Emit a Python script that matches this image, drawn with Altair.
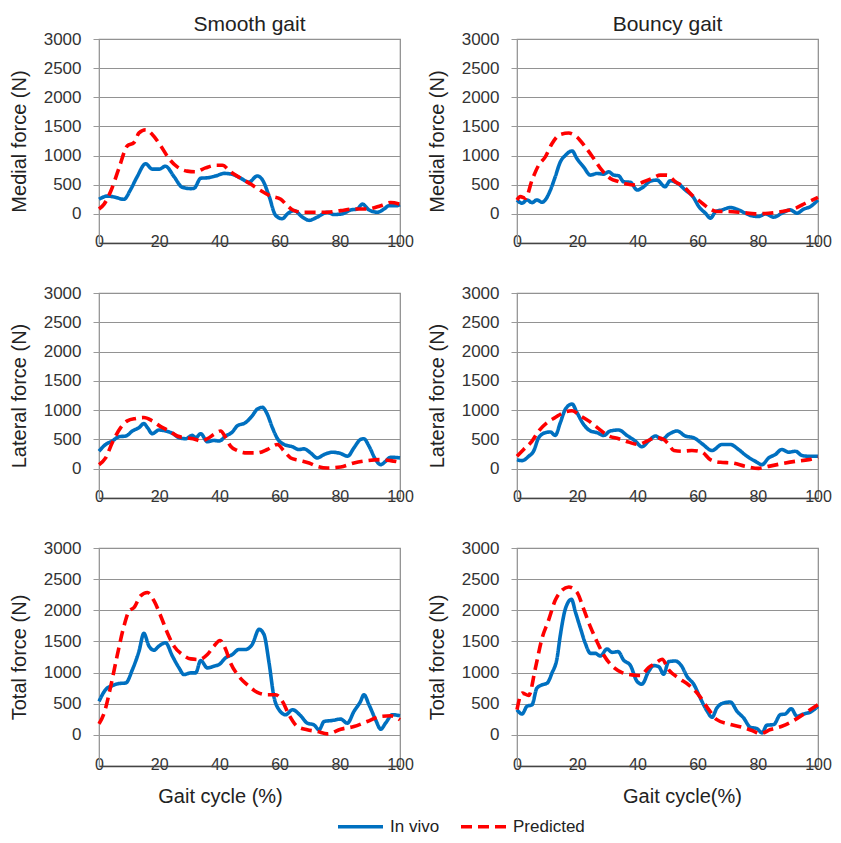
import altair as alt
import pandas as pd

# ---------------- data ----------------
# Smooth gait - medial
sm_med_vivo_x = [0,2.8,5,8.3,10.5,12.7,15.5,17.7,20,22.1,24.9,27.7,30.5,31.6,33.8,36.5,38.8,41.5,44.3,47.1,49.8,52.6,54.3,56.5,58.7,60.9,62.6,64.8,67.6,69.8,72.5,75.9,78.1,80.8,83.6,85.8,87.5,89.7,92.5,94.7,96.3,98.6,100]
sm_med_vivo_y = [250,305,290,250,417,640,860,767,767,817,640,455,433,440,611,622,650,694,678,611,544,650,583,305,-28,-83,0,56,-56,-111,-56,28,-11,0,67,83,167,67,28,83,139,139,156]
sm_med_pred_x = [0,1.7,3.9,6.6,9.4,11.6,13.3,15.5,17.7,20.5,23.3,26,29.3,32.1,35.4,38.8,41,43.7,47.1,50.4,53.7,57,60.4,62.6,64.8,68.1,71.4,75.9,80.3,84.7,89.1,93.6,96.9,100]
sm_med_pred_y = [83,167,389,778,1167,1222,1389,1444,1361,1167,944,806,733,722,789,833,833,722,611,511,400,306,250,139,56,28,28,28,56,83,83,139,194,167]

# Bouncy gait - medial
bo_med_vivo_x = [0,1.7,3.3,5,6.6,8.3,9.4,11.1,12.7,14.4,16.1,18.3,19.9,22.1,24.4,26.6,28.8,30.5,32.1,33.8,35.4,37.7,39.9,42.1,44.3,46.5,49.2,50.9,53.7,55.9,58.6,60.4,62.6,64.3,66,68.1,70.9,73.6,75.9,78.1,80.3,82.6,85.3,88,90.8,93,95.2,97.5,100]
bo_med_vivo_y = [239,182,239,193,239,199,239,409,636,892,1005,1079,949,807,665,693,682,721,665,653,551,540,409,466,562,579,466,568,511,409,284,125,11,-74,40,68,108,68,11,-34,-45,0,-57,11,68,11,80,125,239]
bo_med_pred_x = [0,1.1,2.8,5,7.2,9.4,11.6,14.4,17.2,19.9,22.7,25.5,28.2,31,33.8,36.5,39.3,42.1,44.9,47.6,49.8,52.6,55.4,58.1,60.9,63.7,66.4,70.3,74.8,79.2,83.6,88,92.5,95.8,100]
bo_med_pred_y = [239,295,267,579,835,977,1204,1363,1386,1318,1147,949,750,608,551,511,494,551,608,665,665,551,466,324,210,97,40,40,23,0,11,40,97,182,284]

# Smooth gait - lateral
sm_lat_vivo_x = [0,2.2,4.4,6.6,8.9,11.1,13.3,14.9,16.1,17.7,19.9,22.1,24.4,26.6,28.8,31,32.1,33.8,36,38.2,39.9,42.1,44.3,45.9,48.7,50.9,52.6,54.3,55.9,57.6,59.3,61.5,64.3,66.4,68.1,70.3,72.5,74.8,77.5,80.3,82.6,84.7,86.9,88,89.7,91.9,93.6,95.2,96.9,100]
sm_lat_vivo_y = [299,414,472,546,558,644,702,771,702,598,661,644,604,529,512,569,529,598,460,483,472,558,627,730,788,903,1018,1047,932,702,512,414,374,328,339,270,184,242,282,259,213,357,500,512,385,155,69,126,196,184]
sm_lat_pred_x = [0,2.2,4.4,7.2,9.4,12.2,14.9,17.7,20.5,23.3,26,28.8,32.1,33.8,36,38.2,40.4,42.1,43.7,45.9,49.2,52.6,55.9,59.3,61.5,63.7,66.4,69.8,72.5,75.9,80.3,84.7,89.1,93.6,96.9,100]
sm_lat_pred_y = [69,184,443,702,817,857,874,817,719,644,558,529,500,472,512,587,644,529,385,311,270,270,328,414,299,184,144,98,40,12,29,98,138,155,138,109]

# Bouncy gait - lateral
bo_lat_vivo_x = [0,1.7,3.9,5.5,7.2,9.4,11.1,12.7,14.4,16.1,18.3,19.9,22.1,24.4,26.6,28.8,31,33.8,36.5,39.3,41.5,43.7,46,48.2,50.4,53.2,55.9,58.7,61.5,64.8,68.1,70.9,73.6,76.4,79.2,81.4,83.6,85.8,88,90.3,92.5,94.7,96.9,100]
bo_lat_vivo_y = [155,138,213,299,529,615,627,569,788,1018,1104,960,759,644,615,569,644,661,569,472,374,472,558,500,587,644,558,529,426,311,414,414,328,213,126,69,184,242,328,282,299,224,213,213]
bo_lat_pred_x = [0,2.2,5,7.2,10,12.7,15.5,18.3,21.1,23.8,27.1,30.5,33.8,37.1,40.4,43.2,46,48.7,50.4,52.1,54.8,58.1,61.5,64.2,67.6,71.4,75.9,80.3,83.6,88,92.5,96.9,100]
bo_lat_pred_y = [213,328,472,644,788,874,960,989,903,817,684,558,512,454,414,472,529,500,414,311,299,311,282,155,109,98,40,6,40,86,126,155,196]

# Smooth gait - total
sm_tot_vivo_x = [0,2.2,4.4,6.6,8.9,11.1,13.3,14.9,16.6,18.3,19.9,22.1,24.4,26.6,28.2,30.5,32.1,33.8,36,38.2,39.9,42.1,44.3,46.5,48.7,50.9,53.2,54.8,56.5,58.1,59.8,62,64.3,67,69.2,71.4,73.1,74.8,77.5,80.3,82.5,84.7,86.9,88,89.7,91.9,93.6,95.2,97.5,100]
sm_tot_vivo_y = [538,726,790,823,833,1048,1344,1629,1425,1360,1425,1478,1263,1075,968,995,995,1193,1075,1102,1129,1237,1290,1371,1371,1452,1694,1613,1156,618,403,323,403,306,188,161,81,215,231,253,188,376,538,645,484,242,91,188,323,306]
sm_tot_pred_x = [0,1.7,3.9,6,8.3,10,11.6,13.8,16.1,18.3,20.5,22.7,24.9,27.7,30.5,33.2,36,38.2,40.2,42.1,43.7,46,49.2,52.6,55.9,58.7,60.9,63.1,65.9,69.2,72.5,75.9,80.3,84.7,89.1,93.6,96.9,100]
sm_tot_pred_y = [177,349,780,1263,1747,1989,2043,2231,2285,2150,1909,1640,1425,1290,1220,1210,1290,1425,1516,1371,1156,968,806,683,645,645,538,323,134,81,54,16,91,134,215,296,306,242]

# Bouncy gait - total
bo_tot_vivo_x = [0,1.7,3.3,5,6.6,8.3,10,11.6,13.3,14.4,16.1,18.1,19.4,21.1,22.7,24.4,26,27.7,29.9,31.6,33.6,35.4,37.7,39.9,41.5,43.7,45.4,47.1,48.7,50.4,52.6,54.8,56.5,58.7,60.9,63.1,64.8,66.4,68.6,70.9,73.1,75.3,77.5,79.7,81.4,83,85.3,87.5,89.1,91.1,93,95.2,97.5,100]
bo_tot_vivo_y = [404,335,458,484,750,803,830,990,1229,1601,2027,2176,1974,1708,1468,1309,1309,1266,1378,1325,1336,1202,1112,857,814,1016,1112,1096,974,1176,1186,1096,936,814,590,388,282,431,511,527,378,271,122,101,32,154,165,325,335,420,298,335,367,458]
bo_tot_pred_x = [0,1.7,3.9,6.1,8.3,10.5,12.7,14.9,17.2,19.9,22.1,24.4,26.6,28.8,31.6,34.9,38.2,41,43.7,46,48.2,50.4,53.7,57,60.3,63.7,66.4,70.3,74.8,78.1,80.9,84.2,88,91.9,95.8,100]
bo_tot_pred_y = [404,670,633,1069,1548,1841,2160,2320,2373,2293,2027,1734,1495,1282,1107,1000,963,952,1080,1149,1213,1043,910,803,644,404,245,176,122,69,21,85,138,229,351,484]

series_names = ["In vivo", "Predicted"]
series_colors = ["#0070C0", "#FF0000"]
y_ticks = [0, 500, 1000, 1500, 2000, 2500, 3000]
x_ticks = [0, 20, 40, 60, 80, 100]

FONT = "Liberation Sans"


def panel(xv, yv, xp, yp, ytitle, height, title=None, xtitle=None, xtitle_x=None):
    assert len(xv) == len(yv) and len(xp) == len(yp)
    df = pd.DataFrame({
        "x": list(xv) + list(xp),
        "y": list(yv) + list(yp),
        "series": [series_names[0]] * len(xv) + [series_names[1]] * len(xp),
    })
    xaxis_kw = dict(values=x_ticks, format="d", grid=False, ticks=False, tickSize=0,
                    labelPadding=-2, labelBaseline="middle", labelFlush=False,
                    labelOverlap=False, labelFontSize=16, domainColor="#444", domainWidth=1.5,
                    titlePadding=14)
    if xtitle:
        xaxis = alt.Axis(title=xtitle, titleX=xtitle_x, titleAlign="center", **xaxis_kw)
    else:
        xaxis = alt.Axis(title=None, **xaxis_kw)
    c = alt.Chart(df).mark_line(interpolate="monotone", strokeWidth=3.6).encode(
        x=alt.X("x:Q", scale=alt.Scale(domain=[0, 100], nice=False, zero=False), axis=xaxis),
        y=alt.Y("y:Q", scale=alt.Scale(domain=[-500, 3000], nice=False, zero=False),
                axis=alt.Axis(title=ytitle, values=y_ticks, format="d", grid=True, tickSize=6,
                              tickColor="#999", labelPadding=12, titlePadding=14,
                              domainColor="#999")),
        color=alt.Color("series:N", scale=alt.Scale(domain=series_names, range=series_colors),
                        legend=alt.Legend(title=None)),
        strokeDash=alt.StrokeDash("series:N", scale=alt.Scale(domain=series_names, range=[[1, 0], [11, 6]]),
                                  legend=alt.Legend(title=None)),
    )
    props = dict(width=301, height=height)
    if title:
        props["title"] = alt.TitleParams(text=title, anchor="middle", offset=-5)
    return c.properties(**props)


panels = [
    panel(sm_med_vivo_x, sm_med_vivo_y, sm_med_pred_x, sm_med_pred_y, "Medial force (N)", 204, title="Smooth gait"),
    panel(bo_med_vivo_x, bo_med_vivo_y, bo_med_pred_x, bo_med_pred_y, "Medial force (N)", 204, title="Bouncy gait"),
    panel(sm_lat_vivo_x, sm_lat_vivo_y, sm_lat_pred_x, sm_lat_pred_y, "Lateral force (N)", 205),
    panel(bo_lat_vivo_x, bo_lat_vivo_y, bo_lat_pred_x, bo_lat_pred_y, "Lateral force (N)", 205),
    panel(sm_tot_vivo_x, sm_tot_vivo_y, sm_tot_pred_x, sm_tot_pred_y, "Total force (N)", 218,
          xtitle="Gait cycle (%)", xtitle_x=121),
    panel(bo_tot_vivo_x, bo_tot_vivo_y, bo_tot_pred_x, bo_tot_pred_y, "Total force (N)", 218,
          xtitle="Gait cycle(%)", xtitle_x=165),
]

chart = alt.concat(*panels, columns=2, spacing={"row": 50, "column": 117},
                   bounds="flush", align="each").properties(
    padding={"left": 0, "top": 5, "right": 0, "bottom": 0}
).configure_view(
    stroke="#8a8a8a", strokeWidth=1.2
).configure_axis(
    labelFont=FONT, titleFont=FONT, labelFontSize=17, titleFontSize=20,
    labelColor="#333333", titleColor="#222222", titleFontWeight="normal",
    gridColor="#929292", gridWidth=1.2,
).configure_title(
    font=FONT, fontSize=21, fontWeight="normal", color="#222222"
).configure_legend(
    orient="none", legendX=252, legendY=778, direction="horizontal",
    symbolType="M-3,0H3", symbolSize=225, padding=0,
    symbolStrokeWidth=3.6, labelFont=FONT, labelFontSize=17, labelColor="#222222",
    columnPadding=13, labelOffset=20,
)

chart.save("out.html", embed_options={"renderer": "svg", "actions": False})
